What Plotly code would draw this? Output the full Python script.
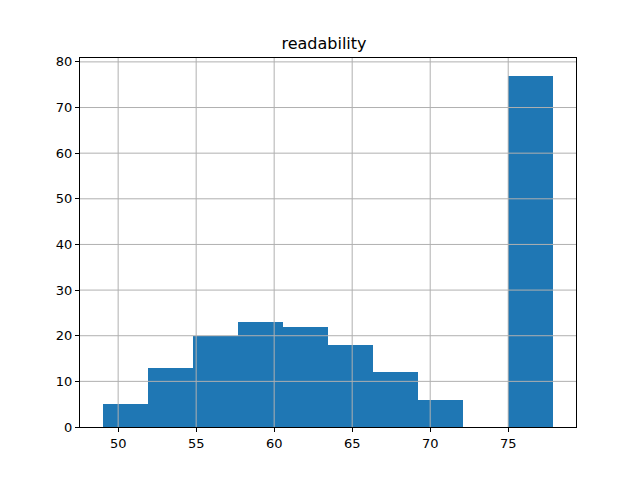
import plotly.graph_objects as go

# histogram of readability, 10 bins
bin_edges = [49.0, 51.89, 54.78, 57.67, 60.56, 63.45, 66.34, 69.23, 72.12, 75.01, 77.9]
counts = [5, 13, 20, 23, 22, 18, 12, 6, 0, 77]
x_ticks = [50, 55, 60, 65, 70, 75]
y_ticks = [0, 10, 20, 30, 40, 50, 60, 70, 80]

centers = [(a + b) / 2 for a, b in zip(bin_edges[:-1], bin_edges[1:])]
widths = [b - a for a, b in zip(bin_edges[:-1], bin_edges[1:])]

fig = go.Figure(go.Bar(x=centers, y=counts, width=widths,
                       marker=dict(color="#1f77b4", line=dict(width=0))))

axis_style = dict(showline=True, linecolor="black", linewidth=1, mirror=True,
                  ticks="outside", ticklen=4, tickcolor="black",
                  showgrid=False, zeroline=False, layer="above traces",
                  tickfont=dict(family="DejaVu Sans", size=13, color="black"))

span = bin_edges[-1] - bin_edges[0]
fig.update_xaxes(range=[bin_edges[0] - 0.05 * span, bin_edges[-1] + 0.05 * span],
                 tickvals=x_ticks, **axis_style)
fig.update_yaxes(range=[0, max(counts) * 1.05], tickvals=y_ticks, **axis_style)

# matplotlib draws the grid on top of the bars
grid = dict(color="#b0b0b0", width=1)
for t in x_ticks:
    fig.add_shape(type="line", xref="x", yref="paper", x0=t, x1=t, y0=0, y1=1,
                  line=grid, layer="above")
for t in y_ticks[1:]:
    fig.add_shape(type="line", xref="paper", yref="y", x0=0, x1=1, y0=t, y1=t,
                  line=grid, layer="above")

# page body adds an 8px offset, so size the figure to compensate
fig.update_layout(
    width=632, height=472,
    margin=dict(l=72, r=64, t=50, b=53),
    paper_bgcolor="white", plot_bgcolor="white",
    bargap=0, showlegend=False,
    title=dict(text="readability", x=0.5, xanchor="center", y=1 - 35 / 472, yanchor="middle",
               font=dict(family="DejaVu Sans", size=16, color="black")),
)

fig.write_html("out.html")
